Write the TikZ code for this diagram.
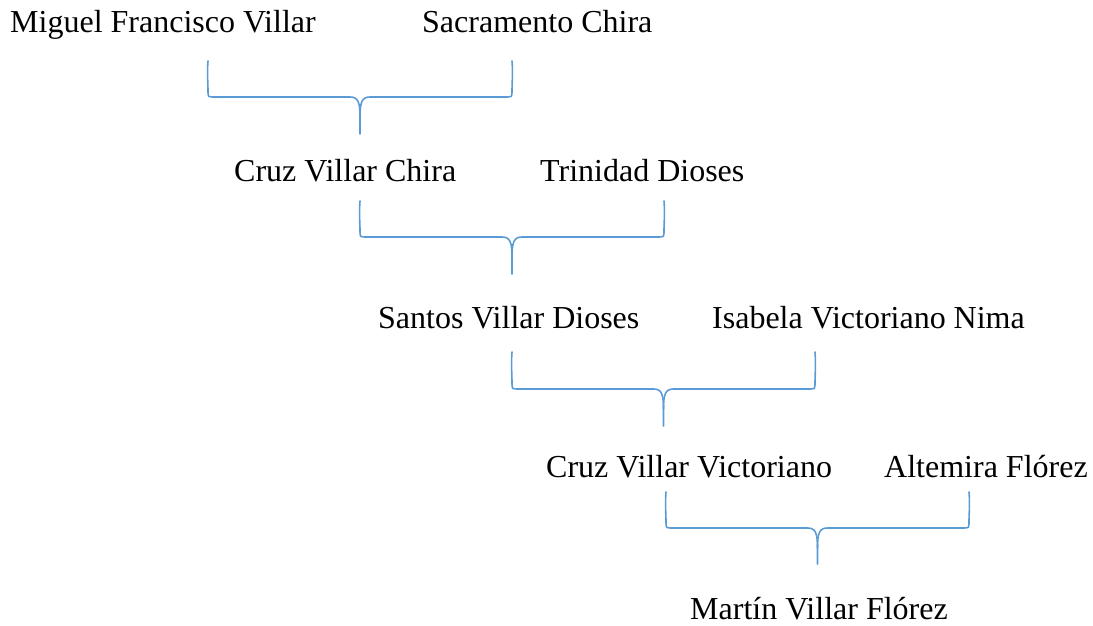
\documentclass[tikz,border=0pt]{standalone}
\usepackage{fontspec}
\setmainfont{Liberation Serif}
\definecolor{bracecol}{RGB}{91,155,213}

\tikzset{
  person/.style={anchor=base west, inner sep=0pt},
  famline/.style={draw=bracecol, line width=1.6pt, line cap=round, line join=round},
}

% brace: #1 name, #2 left x, #3 right x, #4 top y, #5 mid y, #6 tip y
\newcommand{\drawbrace}[6]{%
  \pgfmathsetmacro{\bc}{(#2+#3)/2}
  \coordinate (#1-l) at (#2,#4);
  \coordinate (#1-r) at (#3,#4);
  \coordinate (#1-t) at (\bc,#6);
  \draw[famline] (#1-l) .. controls (#2-1,#4+12) and (#2,#5-14) .. (#2,#5-6)
    .. controls (#2,#5) .. (#2+6,#5)
    -- (\bc-10,#5) .. controls (\bc-2,#5) and (\bc,#5+5) .. (\bc,#5+20) -- (#1-t);
  \draw[famline] (#1-r) .. controls (#3+1,#4+12) and (#3,#5-14) .. (#3,#5-6)
    .. controls (#3,#5) .. (#3-6,#5)
    -- (\bc+10,#5) .. controls (\bc+2,#5) and (\bc,#5+5) .. (\bc,#5+20);
}

\begin{document}
\begin{tikzpicture}[x=1pt,y=-1pt,font=\fontsize{32}{38}\selectfont]
\useasboundingbox (0,0) rectangle (1093,626);

% generation 1
\node[person] (miguel) at (10,33) {Miguel Francisco Villar};
\node[person] (sacramento) at (422,33) {Sacramento Chira};
\drawbrace{gen1}{208}{512}{61}{97}{134}

% generation 2
\node[person] (cruz) at (234,181) {Cruz Villar Chira};
\node[person] (trinidad) at (540,181) {Trinidad Dioses};
\drawbrace{gen2}{360}{664}{201}{237}{274}

% generation 3
\node[person] (santos) at (378,328) {Santos Villar Dioses};
\node[person] (isabela) at (712,328) {Isabela Victoriano Nima};
\drawbrace{gen3}{512}{815}{352}{389}{426}

% generation 4
\node[person] (cruzv) at (546,477) {Cruz Villar Victoriano};
\node[person] (altemira) at (884,477) {Altemira Flórez};
\drawbrace{gen4}{666}{969}{492}{528}{564}

% generation 5
\node[person] (martin) at (690,619) {Martín Villar Flórez};
\end{tikzpicture}
\end{document}
